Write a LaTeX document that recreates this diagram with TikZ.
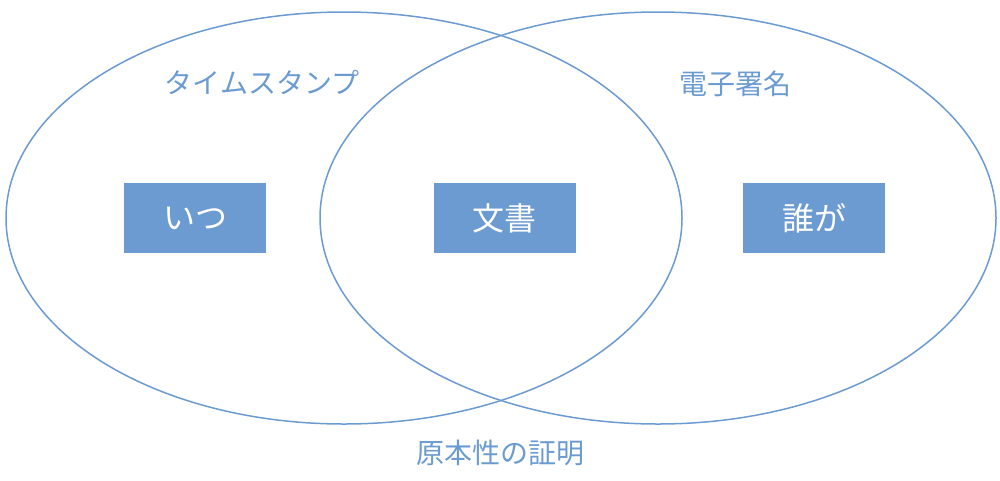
\documentclass[tikz,border=0pt]{standalone}
\usepackage{fontspec}
\newfontfamily\jp{Noto Sans CJK JP}
\definecolor{bl}{HTML}{6C9BD2}
\begin{document}
\begin{tikzpicture}[x=1pt,y=-1pt,
  circ/.style={draw=bl,line width=1.5pt},
  box/.style={fill=bl,text=white,minimum width=142pt,minimum height=70pt,inner sep=0pt,font=\jp\fontsize{32}{36}\selectfont},
  lab/.style={text=bl,font=\jp\fontsize{28}{32}\selectfont}]
\useasboundingbox (0,0) rectangle (1000,480);
\draw[circ] (344,218) ellipse [x radius=338,y radius=206];
\draw[circ] (658,218) ellipse [x radius=338,y radius=206];
\node[box] (a) at (195,218) {いつ};
\node[box] (b) at (504.5,218) {文書};
\node[box] (c) at (814,218) {誰が};
\node[lab] (l1) at (262,82) {タイムスタンプ};
\node[lab] (l2) at (735,84) {電子署名};
\node[lab] (l3) at (500,453) {原本性の証明};
\end{tikzpicture}
\end{document}
